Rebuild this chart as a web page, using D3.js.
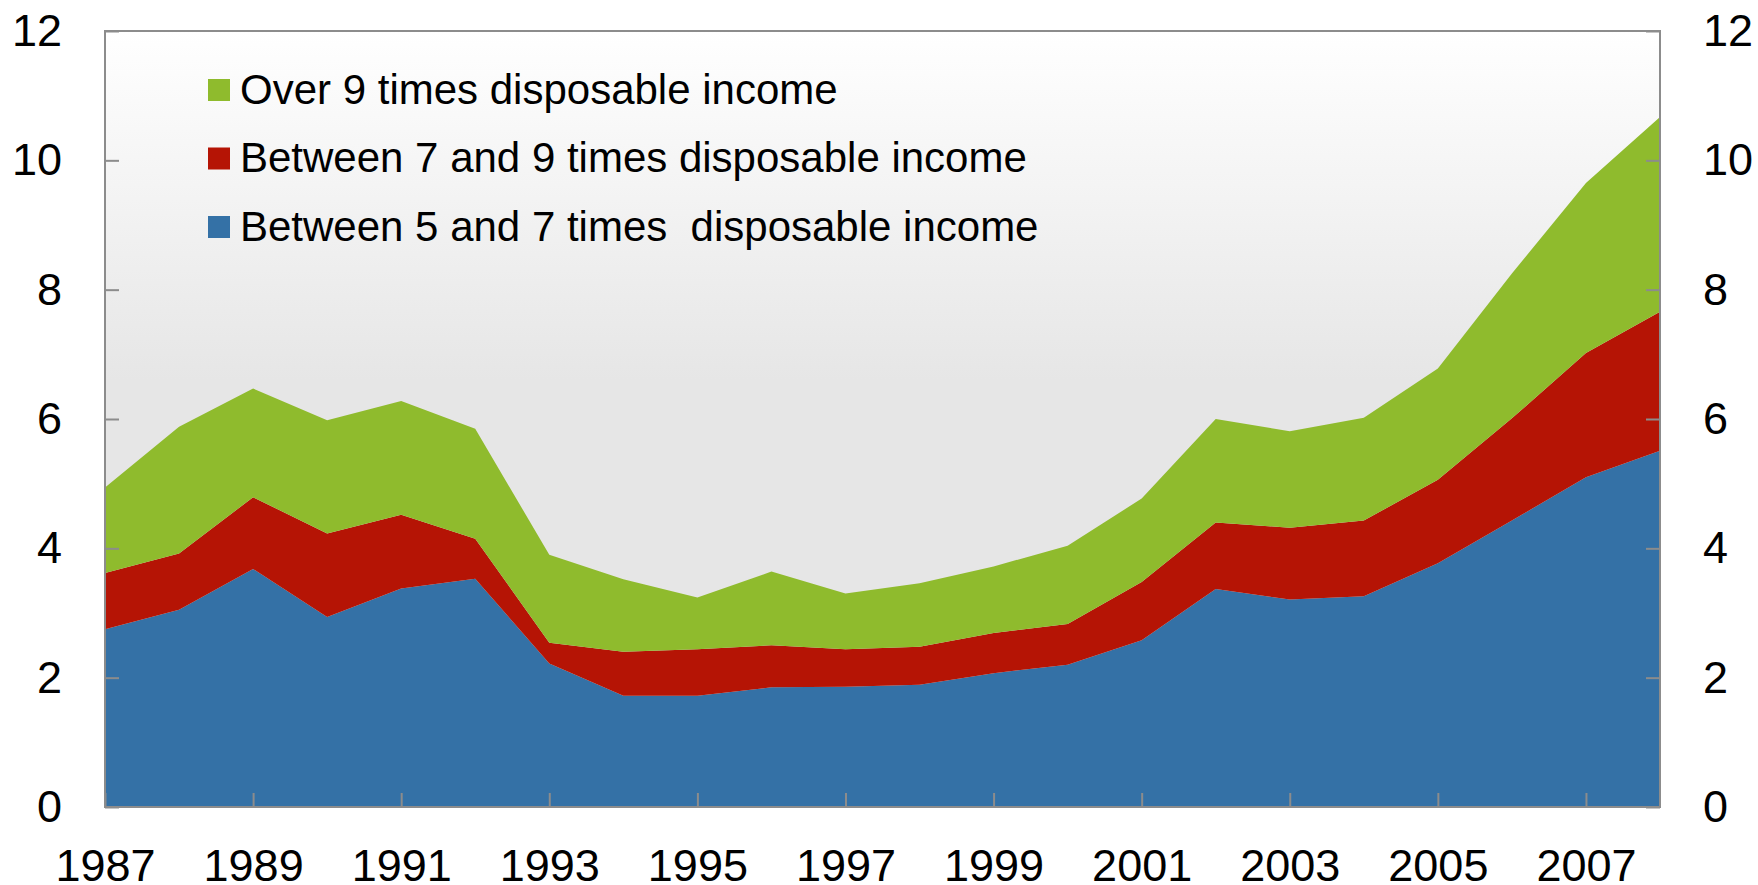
<!DOCTYPE html>
<html>
<head>
<meta charset="utf-8">
<script src="https://cdn.jsdelivr.net/npm/d3@7"></script>
<style>
  html, body { margin: 0; padding: 0; background: #ffffff; }
  svg { display: block; }
  text { font-family: "Liberation Sans", Arial, sans-serif; fill: #000; }
</style>
</head>
<body>
<svg id="chart" width="1758" height="885"></svg>
<script>
// ---- Data ----
const years = [1987,1988,1989,1990,1991,1992,1993,1994,1995,1996,1997,1998,1999,2000,2001,2002,2003,2004,2005,2006,2007,2008];
const between5and7 = [2.75,3.05,3.68,2.94,3.38,3.53,2.22,1.72,1.72,1.85,1.86,1.89,2.07,2.20,2.58,3.37,3.21,3.26,3.77,4.43,5.10,5.51];
const between7and9 = [0.87,0.87,1.11,1.29,1.14,0.62,0.32,0.68,0.72,0.65,0.58,0.59,0.62,0.63,0.90,1.03,1.11,1.17,1.29,1.58,1.92,2.15];
const over9 = [1.32,1.96,1.68,1.75,1.76,1.70,1.36,1.12,0.80,1.14,0.86,0.98,1.03,1.21,1.29,1.60,1.49,1.59,1.72,2.24,2.63,3.01];
const seriesNames = ["Between 5 and 7 times  disposable income","Between 7 and 9 times disposable income","Over 9 times disposable income"];
const seriesColors = ["#3471a6","#b51405","#8fbb2d"];
const yTicks = [0,2,4,6,8,10,12];
const xTicks = [1987,1989,1991,1993,1995,1997,1999,2001,2003,2005,2007];
const legendOrder = [2,1,0];

// ---- Layout ----
const svg = d3.select("#chart");
const L = 105, R = 1660, T = 31, B = 807;

const x = d3.scaleLinear().domain([1987, 2008]).range([L, R]);
const y = d3.scaleLinear().domain([0, 12]).range([B, T]);

// Background gradient
const defs = svg.append("defs");
const grad = defs.append("linearGradient").attr("id","bg").attr("x1",0).attr("y1",0).attr("x2",0).attr("y2",1);
grad.append("stop").attr("offset","0%").attr("stop-color","#ffffff");
grad.append("stop").attr("offset","45%").attr("stop-color","#e6e6e6");
grad.append("stop").attr("offset","100%").attr("stop-color","#e6e6e6");

svg.append("rect").attr("x",L).attr("y",T).attr("width",R-L).attr("height",B-T).attr("fill","url(#bg)");

// Stack
const table = years.map((yr,i) => ({year: yr, s0: between5and7[i], s1: between7and9[i], s2: over9[i]}));
const stack = d3.stack().keys(["s0","s1","s2"]);
const stacked = stack(table);

const area = d3.area()
  .x(d => x(d.data.year))
  .y0(d => y(d[0]))
  .y1(d => y(d[1]));

svg.append("g").selectAll("path").data(stacked).join("path")
  .attr("d", area)
  .attr("fill", (d,i) => seriesColors[i]);

// Axes
const axisColor = "#8c8c8c";
const fontSize = 45;

const leftAxis = d3.axisLeft(y).tickValues(yTicks).tickSize(-14).tickFormat(d3.format("d")).tickPadding(43);
const gL = svg.append("g").attr("transform",`translate(${L},0)`).call(leftAxis);
const rightAxis = d3.axisRight(y).tickValues(yTicks).tickSize(-14).tickFormat(d3.format("d")).tickPadding(43);
const gR = svg.append("g").attr("transform",`translate(${R},0)`).call(rightAxis);
const bottomAxis = d3.axisBottom(x).tickValues(xTicks).tickSize(-14).tickFormat(d3.format("d")).tickPadding(58);
const gB = svg.append("g").attr("transform",`translate(0,${B})`).call(bottomAxis);

[gL,gR,gB].forEach(g => {
  g.select(".domain").remove();
  g.selectAll(".tick line").attr("stroke",axisColor).attr("stroke-width",2);
  g.selectAll(".tick text").attr("font-size",fontSize).attr("font-family","Liberation Sans, Arial, sans-serif").attr("fill","#000");
});
gB.selectAll(".tick text").attr("dy", null).attr("y", 74);

// Plot border
svg.append("rect").attr("x",L).attr("y",T).attr("width",R-L).attr("height",B-T)
  .attr("fill","none").attr("stroke",axisColor).attr("stroke-width",2);

// Legend
const lg = svg.append("g");
legendOrder.forEach((si, row) => {
  const cy = 90 + row * 68.5;
  lg.append("rect").attr("x",208).attr("y",cy-11).attr("width",22).attr("height",22).attr("fill",seriesColors[si]);
  lg.append("text").attr("x",240).attr("y",cy+13.5).attr("font-size",42)
    .attr("xml:space","preserve").style("white-space","pre")
    .text(seriesNames[si]);
});
</script>
</body>
</html>
